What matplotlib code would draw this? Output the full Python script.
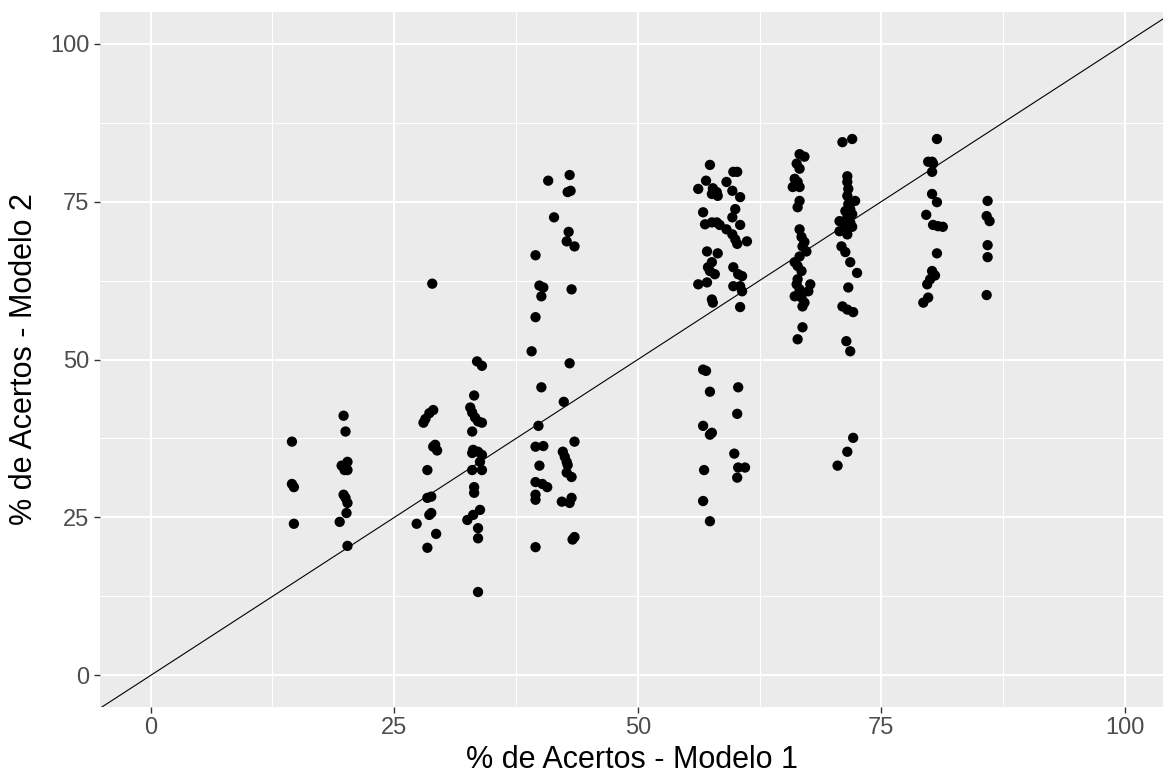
import matplotlib
matplotlib.use("Agg")
import matplotlib.pyplot as plt
import numpy as np

plt.rcParams['font.family'] = ['Liberation Sans', 'DejaVu Sans']

# % de Acertos - Modelo 1 (x) and Modelo 2 (y), grouped by vertical cluster
x_g1 = [14.5, 14.5, 14.7, 14.7]
y_g1 = [37.0, 30.3, 29.8, 24.0]

x_g2 = [19.8, 20.0, 20.2, 19.6, 19.9, 20.2, 19.8, 20.0, 20.2, 20.1, 19.4, 20.2]
y_g2 = [41.1, 38.6, 33.8, 33.2, 32.5, 32.5, 28.6, 28.1, 27.3, 25.7, 24.3, 20.5]

x_g3 = [28.0, 28.2, 28.6, 29.0, 29.0, 29.4, 29.2, 28.4, 28.4, 28.8, 28.8, 28.6, 27.3, 29.3, 28.4, 28.9]
y_g3 = [40.0, 40.6, 41.5, 42.0, 36.2, 35.6, 36.5, 32.5, 28.1, 28.3, 25.7, 25.4, 24.0, 22.4, 20.2, 62.0]

x_g4 = [33.5, 34.0, 33.2, 32.8, 33.0, 33.3, 33.6, 34.0, 33.0, 33.1, 33.0, 33.6, 34.0, 33.8,
        33.0, 34.0, 33.2, 33.2, 33.8, 33.1, 32.5, 33.6, 33.6, 33.6]
y_g4 = [49.7, 49.0, 44.3, 42.4, 41.6, 40.8, 40.2, 40.0, 38.6, 35.7, 35.2, 35.4, 34.9, 33.8,
        32.5, 32.5, 29.8, 28.9, 26.2, 25.4, 24.6, 23.3, 21.7, 13.2]

x_g5 = [40.8, 41.4, 39.5, 39.9, 40.3, 40.1, 39.5, 39.1, 40.1, 39.8, 39.5, 40.3, 39.9, 39.5,
        40.2, 40.7, 39.5, 39.5, 39.5]
y_g5 = [78.3, 72.5, 66.5, 61.7, 61.4, 60.0, 56.7, 51.3, 45.6, 39.5, 36.2, 36.3, 33.2, 30.6,
        30.3, 29.8, 28.6, 27.8, 20.3]

x_g6 = [43.0, 42.8, 43.1, 42.9, 42.7, 43.5, 43.2, 43.0, 42.4, 43.5, 42.3, 42.5, 42.7, 42.8,
        42.7, 43.2, 42.2, 43.0, 43.2, 43.5, 43.3]
y_g6 = [79.2, 76.5, 76.7, 70.2, 68.7, 67.9, 61.1, 49.4, 43.3, 37.0, 35.4, 34.6, 33.8, 33.3,
        32.1, 31.4, 27.5, 27.3, 28.1, 21.9, 21.5]

x_g7 = [57.4, 57.0, 56.2, 57.7, 58.1, 57.6, 58.2, 59.8, 60.2, 59.1, 59.7, 60.5, 60.0, 59.7,
        60.5, 56.7, 56.9, 57.6, 58.1, 58.4, 59.1, 59.7, 60.0, 60.2, 61.2, 57.1, 58.2, 57.6,
        57.2, 57.9, 57.4, 59.8, 60.3, 60.7, 56.2, 57.1, 59.8, 60.5, 60.7, 57.6, 57.7, 60.5,
        56.7, 57.0, 57.4, 60.3, 60.2, 56.7, 57.6, 57.4, 59.9, 56.8, 60.3, 61.0, 60.2, 56.7, 57.4]
y_g7 = [80.8, 78.3, 77.0, 77.1, 76.5, 76.2, 75.9, 79.7, 79.7, 78.1, 76.7, 75.7, 73.8, 72.5,
        71.3, 73.3, 71.4, 71.7, 71.7, 71.3, 70.6, 69.8, 69.0, 68.3, 68.7, 67.1, 66.8, 65.4,
        64.6, 63.5, 64.0, 64.6, 63.5, 63.2, 61.9, 62.2, 61.6, 61.6, 60.8, 59.5, 59.0, 58.3,
        48.4, 48.2, 44.9, 45.6, 41.4, 39.5, 38.4, 38.1, 35.1, 32.5, 32.9, 32.9, 31.3, 27.6, 24.4]

x_g8 = [66.6, 67.1, 66.3, 66.6, 66.1, 66.4, 65.9, 66.6, 66.6, 66.4, 66.6, 66.8, 67.1, 66.9,
        67.3, 66.6, 66.1, 66.4, 66.8, 66.4, 66.3, 67.7, 66.6, 67.5, 66.1, 66.8, 67.1, 66.9,
        66.9, 66.4]
y_g8 = [82.5, 82.1, 81.0, 80.2, 78.6, 78.1, 77.3, 77.3, 75.1, 74.1, 70.6, 69.4, 68.6, 67.9,
        67.1, 66.3, 65.4, 64.8, 64.0, 62.7, 61.9, 61.9, 61.1, 60.8, 60.0, 59.8, 59.0, 58.4,
        55.1, 53.2]

x_g9 = [71.0, 72.0, 71.5, 71.5, 71.6, 71.5, 72.3, 71.6, 71.8, 71.3, 72.0, 71.5, 70.7, 71.8,
        71.3, 72.0, 70.7, 71.5, 70.9, 71.3, 71.8, 72.5, 71.6, 71.0, 71.5, 72.1, 71.4, 71.8,
        72.1, 71.5, 70.5]
y_g9 = [84.4, 84.9, 79.0, 78.1, 77.0, 75.9, 75.1, 74.6, 73.8, 73.5, 73.0, 72.5, 71.9, 71.7,
        71.1, 71.0, 70.3, 69.8, 67.9, 67.0, 65.4, 63.7, 61.4, 58.4, 57.9, 57.5, 52.9, 51.3,
        37.6, 35.4, 33.2]

x_g10 = [80.7, 79.8, 80.2, 80.3, 80.2, 80.2, 80.7, 79.6, 80.3, 80.8, 81.3, 80.7, 80.2, 80.5,
         80.0, 79.7, 79.8, 79.3]
y_g10 = [84.9, 81.3, 81.3, 81.0, 79.7, 76.2, 74.9, 72.9, 71.3, 71.1, 71.0, 66.8, 64.0, 63.3,
         62.7, 61.9, 59.8, 59.0]

x_g11 = [85.9, 85.8, 86.1, 85.9, 85.9, 85.8]
y_g11 = [75.1, 72.7, 71.9, 68.1, 66.2, 60.2]

x_ticks = [0, 25, 50, 75, 100]
y_ticks = [0, 25, 50, 75, 100]
x_label = "% de Acertos - Modelo 1"
y_label = "% de Acertos - Modelo 2"

xs = np.concatenate([x_g1, x_g2, x_g3, x_g4, x_g5, x_g6, x_g7, x_g8, x_g9, x_g10, x_g11])
ys = np.concatenate([y_g1, y_g2, y_g3, y_g4, y_g5, y_g6, y_g7, y_g8, y_g9, y_g10, y_g11])

fig = plt.figure(figsize=(11.63, 7.83), dpi=100)
ax = fig.add_axes([100/1163, 76/783, 1063/1163, 695/783])
ax.set_facecolor('#EBEBEB')

ax.set_xlim(-5.2, 103.9)
ax.set_ylim(-5, 105)

ax.set_xticks(x_ticks)
ax.set_yticks(y_ticks)
ax.set_xticks([12.5, 37.5, 62.5, 87.5], minor=True)
ax.set_yticks([12.5, 37.5, 62.5, 87.5], minor=True)
ax.grid(which='major', color='white', linewidth=1.5)
ax.grid(which='minor', color='white', linewidth=0.75)
ax.set_axisbelow(True)
for s in ax.spines.values():
    s.set_visible(False)

ax.tick_params(which='major', length=4.5, width=1.0, color='#333333',
               labelcolor='#4D4D4D', labelsize=17, pad=3)
ax.tick_params(which='minor', length=0)

ax.axline((0, 0), slope=1, color='black', linewidth=0.8, zorder=2)
ax.scatter(xs, ys, s=55, color='black', edgecolors='none', zorder=3)

ax.set_xlabel(x_label, fontsize=22, labelpad=4)
ax.set_ylabel(y_label, fontsize=22, labelpad=8)

fig.savefig('out.png', dpi=100)
